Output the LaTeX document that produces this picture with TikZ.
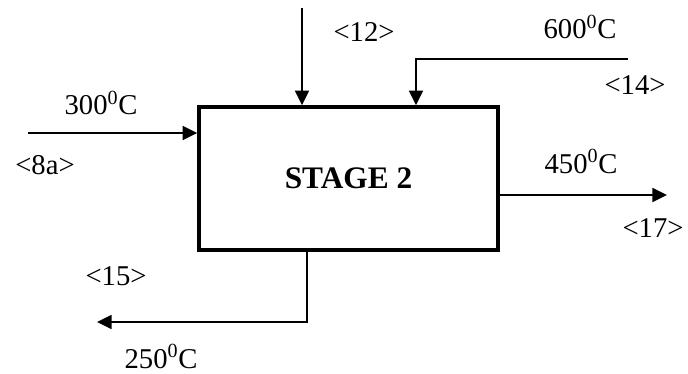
\documentclass[tikz,border=0pt]{standalone}
\usepackage{fontspec}
\setmainfont{Liberation Serif}
\usepackage{tikz}
\usetikzlibrary{arrows.meta,positioning}

\begin{document}
\begin{tikzpicture}[
x=0.75pt, y=-0.75pt,
stagebox/.style={draw, line width=2.8pt, minimum width=224pt, minimum height=107pt, font=\fontsize{23.5}{28}\selectfont\bfseries},
lbl/.style={anchor=base, inner sep=0pt, font=\fontsize{21.5}{26}\selectfont},
arr/.style={-{Triangle[length=11pt, width=10.5pt]}, line width=1.3pt}
]
\useasboundingbox (0,0) rectangle (688,374);
\node[stagebox] (stage) at (348.5,178.5) {STAGE 2};
\coordinate (in8a) at (28,133);
\coordinate (in12) at (302,8);
\coordinate (in14) at (628,59);
\coordinate (drop14) at (416,59);
\coordinate (out17) at (667,195);
\coordinate (turn15) at (307,322);
\coordinate (out15) at (97,322);
\draw[arr] (in8a) -- (in8a -| stage.west);
\draw[arr] (in12) -- (in12 |- stage.north);
\draw[arr] (in14) -- (drop14) -- (drop14 |- stage.north);
\draw[arr] (out17 -| stage.east) -- (out17);
\draw[arr] (turn15 |- stage.south) -- (turn15) -- (out15);
\node[lbl] (t8a) at (101,115) {300\textsuperscript{0}C};
\node[lbl] (s8a) at (45,175) {<8a>};
\node[lbl] (s12) at (364,42) {<12>};
\node[lbl] (t14) at (580,39) {600\textsuperscript{0}C};
\node[lbl] (s14) at (635,95) {<14>};
\node[lbl] (t17) at (581,173) {450\textsuperscript{0}C};
\node[lbl] (s17) at (653,237) {<17>};
\node[lbl] (s15) at (116,285) {<15>};
\node[lbl] (t15) at (161,368) {250\textsuperscript{0}C};
\end{tikzpicture}
\end{document}
